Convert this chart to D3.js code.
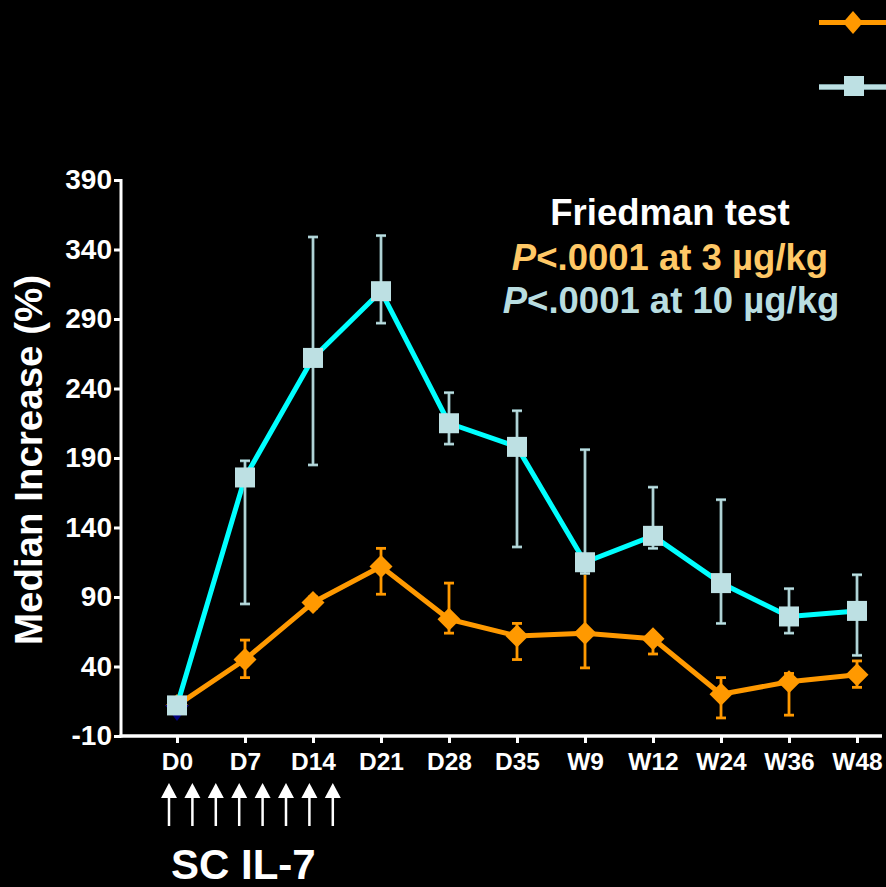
<!DOCTYPE html>
<html>
<head>
<meta charset="utf-8">
<script src="https://cdn.jsdelivr.net/npm/d3@7"></script>
<style>
  html, body { margin: 0; padding: 0; background: #000; }
  svg { display: block; font-family: "Liberation Sans", Arial, sans-serif; font-weight: bold; }
</style>
</head>
<body>
<svg id="chart" width="886" height="887"></svg>
<script>
"use strict"

// time points on the x axis
var categories = ["D0", "D7", "D14", "D21", "D28", "D35", "W9", "W12", "W24", "W36", "W48"]
var yTicks = [-10, 40, 90, 140, 190, 240, 290, 340, 390]

// 3 ug/kg, median and error range
var lowDose   = [12, 45, 86, 112, 74, 62, 64, 60, 20, 29, 34]
var lowDoseLo = [12, 32, 82, 92, 64, 45, 39, 49, 3, 5, 25]
var lowDoseHi = [12, 59, 90, 125, 100, 71, 107, 63, 32, 35, 44]

// 10 ug/kg, median and error range
var highDose   = [12, 176, 262, 310, 215, 198, 115, 134, 100, 76, 80]
var highDoseLo = [12, 85, 185, 287, 200, 126, 107, 125, 71, 64, 48]
var highDoseHi = [12, 188, 349, 350, 237, 224, 196, 169, 160, 96, 106]

// a third marker only visible at baseline
var baseOnly = [{ cat: "D0", value: 8 }]

var doseArrows = d3.range(8)

var ORANGE = "#ff9900"
var CYAN = "#00ffff"
var PALE = "#bde0e3"
var PALE_EDGE = "#7c9ea1"

var svg = d3.select("#chart")
svg.append("rect").attr("width", 886).attr("height", 887).attr("fill", "#000")

var x = d3.scalePoint().domain(categories).range([177, 857])
var y = d3.scaleLinear().domain([-10, 390]).range([736, 180])

// ---- axes
var yAxis = svg.append("g")
  .attr("transform", "translate(121,0)")
  .call(d3.axisLeft(y).tickValues(yTicks).tickFormat(function(d) { return String(d) })
    .tickSize(7).tickSizeOuter(0).tickPadding(2))
yAxis.select(".domain").remove()
yAxis.selectAll(".tick line").attr("stroke", "#fff").attr("stroke-width", 3)
yAxis.selectAll(".tick text")
  .attr("fill", "#fff").attr("font-size", 28).attr("font-weight", "bold")
  .attr("font-family", "Liberation Sans, Arial, sans-serif")

svg.append("line")
  .attr("x1", 121).attr("x2", 121)
  .attr("y1", y(390) - 1).attr("y2", y(-10) + 1.5)
  .attr("stroke", "#fff").attr("stroke-width", 3)

var xAxis = svg.append("g")
  .attr("transform", "translate(0," + y(-10) + ")")
  .call(d3.axisBottom(x).tickSize(7).tickSizeOuter(0).tickPadding(10))
xAxis.select(".domain").remove()
xAxis.selectAll(".tick line").attr("stroke", "#fff").attr("stroke-width", 3)
xAxis.selectAll(".tick text")
  .attr("fill", "#fff").attr("font-size", 24.5).attr("font-weight", "bold")
  .attr("font-family", "Liberation Sans, Arial, sans-serif")

svg.append("line")
  .attr("x1", 119.5).attr("x2", 882)
  .attr("y1", y(-10)).attr("y2", y(-10))
  .attr("stroke", "#fff").attr("stroke-width", 3.5)

svg.append("text")
  .attr("transform", "translate(42,460) rotate(-90)")
  .attr("text-anchor", "middle")
  .attr("fill", "#fff").attr("font-size", 38.5)
  .text("Median Increase (%)")

// ---- series helpers
function rows(vals, lo, hi) {
  return categories.map(function(c, i) {
    return { cat: c, value: vals[i], lo: lo[i], hi: hi[i] }
  })
}

var line = d3.line()
  .x(function(d) { return x(d.cat) })
  .y(function(d) { return y(d.value) })

function drawErrors(g, data, color, width, edge) {
  var bars = g.selectAll(".err").data(data.filter(function(d) { return d.hi - d.lo > 0 }))
    .enter().append("g")
  var strokes = edge ? [[edge, width], [color, width - 1.4]] : [[color, width]]
  strokes.forEach(function(s) {
    bars.append("line")
      .attr("x1", function(d) { return x(d.cat) }).attr("x2", function(d) { return x(d.cat) })
      .attr("y1", function(d) { return y(d.lo) }).attr("y2", function(d) { return y(d.hi) })
      .attr("stroke", s[0]).attr("stroke-width", s[1])
    ;["lo", "hi"].forEach(function(k) {
      bars.append("line")
        .attr("x1", function(d) { return x(d.cat) - 5 }).attr("x2", function(d) { return x(d.cat) + 5 })
        .attr("y1", function(d) { return y(d[k]) }).attr("y2", function(d) { return y(d[k]) })
        .attr("stroke", s[0]).attr("stroke-width", s[1])
    })
  })
}

function diamond(cx, cy, w, h) {
  return "M" + cx + "," + (cy - h) + "L" + (cx + w) + "," + cy + "L" + cx + "," + (cy + h) + "L" + (cx - w) + "," + cy + "Z"
}

// ---- 3 ug/kg series
var low = rows(lowDose, lowDoseLo, lowDoseHi)
var gLow = svg.append("g")
gLow.append("path").datum(low)
  .attr("d", line).attr("fill", "none")
  .attr("stroke", ORANGE).attr("stroke-width", 5).attr("stroke-linejoin", "round")
drawErrors(gLow, low, ORANGE, 2.8)
gLow.selectAll(".mk").data(low).enter().append("path")
  .attr("d", function(d) { return diamond(x(d.cat), y(d.value), 11.5, 11.5) })
  .attr("fill", ORANGE)

// ---- baseline triangle
svg.selectAll(".tri").data(baseOnly).enter().append("path")
  .attr("d", function(d) {
    var cx = x(d.cat), cy = y(d.value)
    return "M" + (cx - 12) + "," + (cy - 6) + "L" + (cx + 12) + "," + (cy - 6) + "L" + cx + "," + (cy + 10) + "Z"
  })
  .attr("fill", "#000080")

// ---- 10 ug/kg series
var high = rows(highDose, highDoseLo, highDoseHi)
var gHigh = svg.append("g")
gHigh.append("path").datum(high)
  .attr("d", line).attr("fill", "none")
  .attr("stroke", CYAN).attr("stroke-width", 5).attr("stroke-linejoin", "round")
drawErrors(gHigh, high, PALE, 3, PALE_EDGE)
gHigh.selectAll(".mk").data(high).enter().append("rect")
  .attr("x", function(d) { return x(d.cat) - 10 })
  .attr("y", function(d) { return y(d.value) - 10 })
  .attr("width", 20).attr("height", 20)
  .attr("fill", PALE)

// ---- legend (labels fall outside the frame)
svg.append("line").attr("x1", 819).attr("x2", 886).attr("y1", 22.5).attr("y2", 22.5)
  .attr("stroke", ORANGE).attr("stroke-width", 5)
svg.append("path").attr("d", diamond(853, 22.5, 10, 11.5)).attr("fill", ORANGE)

svg.append("line").attr("x1", 819).attr("x2", 886).attr("y1", 87).attr("y2", 87)
  .attr("stroke", PALE_EDGE).attr("stroke-width", 6)
svg.append("line").attr("x1", 819).attr("x2", 886).attr("y1", 87).attr("y2", 87)
  .attr("stroke", PALE).attr("stroke-width", 4)
svg.append("rect").attr("x", 844).attr("y", 76).attr("width", 20).attr("height", 20).attr("fill", PALE)

// ---- Friedman annotation
var note = svg.append("g").attr("text-anchor", "middle").attr("font-size", 36.5)
note.append("text").attr("x", 670).attr("y", 225).attr("fill", "#fff").text("Friedman test")
var n2 = note.append("text").attr("x", 670).attr("y", 270).attr("fill", "#ffc866")
n2.append("tspan").attr("font-style", "italic").text("P")
n2.append("tspan").text("<.0001 at 3 µg/kg")
var n3 = note.append("text").attr("x", 671).attr("y", 313).attr("fill", "#b9dde0")
n3.append("tspan").attr("font-style", "italic").text("P")
n3.append("tspan").text("<.0001 at 10 µg/kg")

// ---- dosing arrows
var arrows = svg.append("g")
arrows.selectAll("line").data(doseArrows).enter().append("line")
  .attr("x1", function(i) { return 169 + i * 23.4 }).attr("x2", function(i) { return 169 + i * 23.4 })
  .attr("y1", 795).attr("y2", 826)
  .attr("stroke", "#fff").attr("stroke-width", 2.5)
arrows.selectAll("path").data(doseArrows).enter().append("path")
  .attr("d", function(i) {
    var cx = 169 + i * 23.4
    return "M" + cx + ",783L" + (cx + 8) + ",798L" + (cx - 8) + ",798Z"
  })
  .attr("fill", "#fff")

svg.append("text").attr("x", 171).attr("y", 879)
  .attr("fill", "#fff").attr("font-size", 42)
  .text("SC IL-7")
</script>
</body>
</html>
